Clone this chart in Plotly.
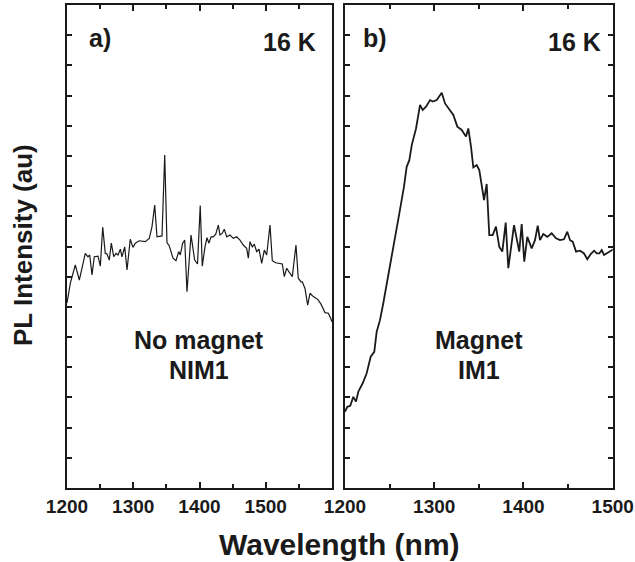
import plotly.graph_objects as go

# ---- data ----
wl_a = [1200, 1205.0, 1212.5, 1218.6, 1227.6, 1231.7, 1234.3, 1237.7, 1241.2, 1246.8,
        1250.3, 1253.9, 1257.8, 1260.4, 1263.8, 1266.9, 1270.5, 1274.0, 1277.0, 1280.5,
        1283.0, 1287.1, 1290.6, 1295.5, 1299.6, 1303.1, 1309.1, 1318.2, 1324.2, 1328.3,
        1332.4, 1335.8, 1343.4, 1347.5, 1350.9, 1354.4, 1360.0, 1364.5, 1368.6, 1371.0,
        1374.6, 1377.7, 1381.1, 1387.2, 1392.7, 1397.0, 1401.1, 1404.2, 1408.3, 1411.3,
        1414.3, 1417.4, 1420.8, 1424.5, 1428.4, 1430.9, 1434.4, 1437.4, 1441.1, 1446.0,
        1451.0, 1456.1, 1461.1, 1466.1, 1471.2, 1473.7, 1476.2, 1479.7, 1482.7, 1486.3,
        1489.8, 1493.9, 1497.8, 1501.4, 1506.4, 1509.9, 1515.0, 1521.5, 1525.0, 1528.0,
        1531.6, 1535.1, 1540.1, 1545.6, 1549.1, 1553.2, 1555.2, 1559.2, 1563.3, 1566.8,
        1571.8, 1578.4, 1583.4, 1589.4, 1594.4, 1597.0, 1600.0]
pl_a = [6.13, 6.78, 7.39, 6.89, 7.77, 7.66, 7.72, 7.06, 7.66, 7.68,
        7.35, 8.64, 7.77, 7.75, 7.55, 8.11, 7.66, 7.77, 7.72, 7.91,
        7.66, 7.99, 7.22, 8.24, 7.97, 8.11, 8.19, 8.16, 8.27, 8.66,
        9.37, 8.32, 8.35, 11.03, 8.13, 8.02, 7.61, 7.53, 7.83, 7.72,
        8.11, 8.21, 6.50, 8.38, 7.55, 7.42, 9.36, 7.35, 7.99, 8.29,
        8.11, 8.32, 8.32, 8.41, 8.71, 8.38, 8.44, 8.57, 8.32, 8.38,
        8.27, 8.32, 8.21, 8.05, 7.94, 7.61, 8.16, 7.99, 8.08, 7.83,
        7.91, 7.44, 7.88, 7.72, 8.71, 7.53, 7.46, 7.44, 7.42, 7.00,
        7.28, 7.16, 7.00, 8.05, 6.95, 6.83, 6.83, 6.61, 6.06, 6.45,
        6.34, 6.25, 6.09, 5.81, 5.79, 5.67, 5.51]

wl_b = [1200, 1202.6, 1205.9, 1209.3, 1212.3, 1214.9, 1219.8, 1224.3, 1228.8, 1232.8,
        1235.5, 1239.2, 1242.9, 1246.7, 1251.2, 1256.0, 1260.9, 1266.1, 1269.1, 1272.1,
        1274.8, 1279.6, 1284.1, 1287.1, 1290.8, 1295.3, 1298.3, 1302.8, 1308.4, 1312.1,
        1316.9, 1321.4, 1325.9, 1330.8, 1335.6, 1338.2, 1341.2, 1343.8, 1347.6, 1350.5,
        1355.8, 1358.8, 1361.7, 1365.5, 1369.2, 1372.9, 1376.3, 1380.1, 1383.0, 1386.8,
        1389.4, 1395.3, 1398.0, 1400.9, 1404.3, 1409.2, 1412.9, 1416.0, 1418.5, 1422.2,
        1426.7, 1431.6, 1436.5, 1440.9, 1445.4, 1449.1, 1452.2, 1455.2, 1458.9, 1463.4,
        1467.9, 1471.5, 1475.4, 1479.1, 1482.1, 1485.0, 1487.7, 1490.3, 1494.0, 1498.9,
        1502.6]
pl_b = [2.53, 2.69, 2.72, 3.02, 2.86, 3.19, 3.47, 3.80, 4.35, 4.51,
        5.18, 5.56, 6.12, 6.78, 7.50, 8.32, 9.10, 9.98, 10.64, 10.86,
        11.36, 11.91, 12.69, 12.52, 12.63, 12.85, 12.80, 12.85, 13.09, 12.74,
        12.54, 12.36, 11.97, 11.86, 11.64, 11.91, 11.31, 10.62, 10.70, 10.53,
        9.54, 10.07, 8.38, 8.38, 8.66, 7.99, 7.83, 8.79, 7.28, 8.21,
        8.71, 7.83, 8.74, 7.50, 8.32, 7.94, 8.21, 8.69, 8.21, 8.41,
        8.32, 8.44, 8.27, 8.21, 8.24, 8.49, 8.21, 8.16, 7.83, 7.86,
        7.77, 7.58, 7.75, 7.86, 7.77, 7.77, 7.88, 7.72, 7.79, 7.86,
        7.94]

ticks_a = [1200, 1300, 1400, 1500, 1600]
ticktext_a = ["1200", "1300", "1400", "1500", ""]
minor_a = [1250, 1350, 1450, 1550]
ticks_b = [1200, 1300, 1400, 1500]
minor_b = [1250, 1350, 1450]

FONT = "Liberation Sans, Arial, sans-serif"
INK = "#1a1a1a"

fig = go.Figure()
fig.add_trace(go.Scatter(x=wl_a, y=pl_a, mode="lines", line=dict(color=INK, width=1.2),
                         xaxis="x", yaxis="y", showlegend=False))
fig.add_trace(go.Scatter(x=wl_b, y=pl_b, mode="lines", line=dict(color=INK, width=1.8),
                         xaxis="x2", yaxis="y2", showlegend=False))

W, H = 635, 562
common_x = dict(showline=True, linecolor=INK, linewidth=2, ticks="inside", ticklen=6,
                tickwidth=1.5, tickcolor=INK, showgrid=False, zeroline=False,
                tickfont=dict(family=FONT, size=19, color=INK, weight="bold"),
                mirror="ticks", automargin=False)
common_y = dict(showline=True, linecolor=INK, linewidth=2, ticks="inside", ticklen=5,
                tickwidth=1.5, tickcolor=INK, showgrid=False, zeroline=False,
                showticklabels=False, range=[0, 16], tickmode="linear", tick0=0, dtick=1,
                automargin=False)

fig.update_layout(
    template="none",
    width=W, height=H, margin=dict(l=0, r=0, t=0, b=0, pad=0),
    paper_bgcolor="white", plot_bgcolor="white",
    xaxis=dict(domain=[67 / W, 332 / W], range=[1200, 1600], tickmode="array",
               tickvals=ticks_a, ticktext=ticktext_a,
               minor=dict(tickmode="array", tickvals=minor_a, ticks="inside", ticklen=4,
                          tickwidth=1.5, tickcolor=INK),
               anchor="y", **common_x),
    yaxis=dict(domain=[1 - 488 / H, 1 - 5 / H], anchor="x", mirror=True, **common_y),
    xaxis2=dict(domain=[345 / W, 612.7 / W], range=[1200, 1500], tickmode="array",
                tickvals=ticks_b,
                minor=dict(tickmode="array", tickvals=minor_b, ticks="inside", ticklen=4,
                           tickwidth=1.5, tickcolor=INK),
                anchor="y2", **common_x),
    yaxis2=dict(domain=[1 - 488 / H, 1 - 5 / H], anchor="x2", mirror="ticks", **common_y),
)

def ann(text, px, py, size, xanchor="center", angle=0):
    fig.add_annotation(text=text, x=px / W, y=1 - py / H, xref="paper", yref="paper",
                       xanchor=xanchor, yanchor="middle", showarrow=False, textangle=angle,
                       font=dict(family=FONT, size=size, color=INK, weight="bold"))

ann("a)", 87, 38, 25, "left")
ann("16 K", 318, 42, 25, "right")
ann("b)", 361, 38, 25, "left")
ann("16 K", 603, 42, 25, "right")
ann("No magnet", 199.5, 340, 25)
ann("NIM1", 199.5, 370, 25)
ann("Magnet", 478.5, 340, 25)
ann("IM1", 478.5, 370, 25)
ann("PL Intensity (au)", 23, 245, 26, "center", -90)
ann("Wavelength (nm)", 339, 544, 30)

fig.write_html("out.html")
